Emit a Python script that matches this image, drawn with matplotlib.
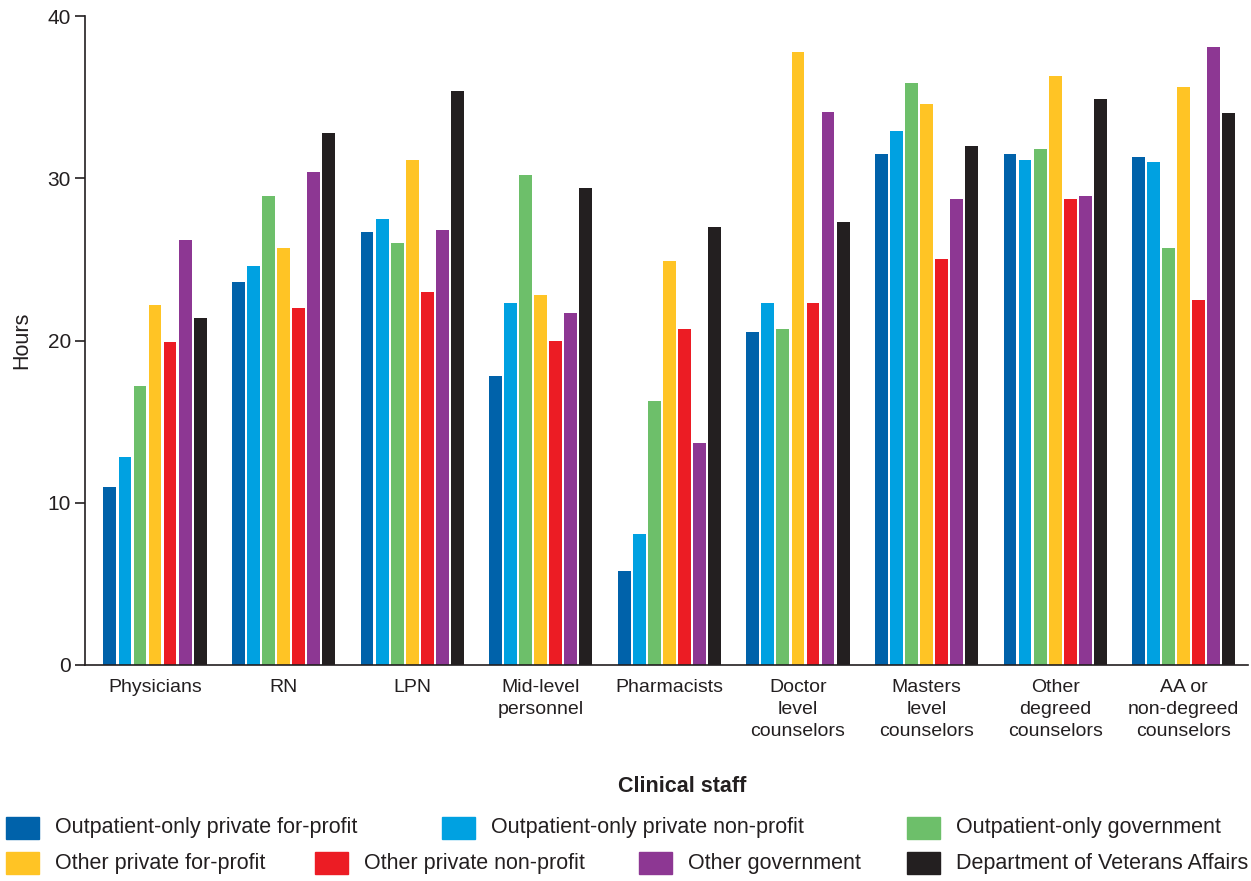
import matplotlib.pyplot as plt
from matplotlib.patches import Rectangle
import numpy as np

plt.rcParams['font.family'] = ['Liberation Sans Narrow', 'Liberation Sans', 'DejaVu Sans']

# categories on the x axis
staff = ['Physicians', 'RN', 'LPN', 'Mid-level\npersonnel', 'Pharmacists',
         'Doctor\nlevel\ncounselors', 'Masters\nlevel\ncounselors',
         'Other\ndegreed\ncounselors', 'AA or\nnon-degreed\ncounselors']

# hours per facility type
op_private_fp = [11.0, 23.6, 26.7, 17.8, 5.8, 20.5, 31.5, 31.5, 31.3]
op_private_np = [12.8, 24.6, 27.5, 22.3, 8.1, 22.3, 32.9, 31.1, 31.0]
op_government = [17.2, 28.9, 26.0, 30.2, 16.3, 20.7, 35.9, 31.8, 25.7]
other_private_fp = [22.2, 25.7, 31.1, 22.8, 24.9, 37.8, 34.6, 36.3, 35.6]
other_private_np = [19.9, 22.0, 23.0, 20.0, 20.7, 22.3, 25.0, 28.7, 22.5]
other_government = [26.2, 30.4, 26.8, 21.7, 13.7, 34.1, 28.7, 28.9, 38.1]
veterans = [21.4, 32.8, 35.4, 29.4, 27.0, 27.3, 32.0, 34.9, 34.0]

series = [op_private_fp, op_private_np, op_government,
          other_private_fp, other_private_np, other_government, veterans]
names = ['Outpatient-only private for-profit', 'Outpatient-only private non-profit',
         'Outpatient-only government', 'Other private for-profit',
         'Other private non-profit', 'Other government', 'Department of Veterans Affairs']
colors = ['#0062AA', '#00A1E1', '#6DBF6A', '#FFC425', '#EC1C24', '#8D3793', '#231F20']

fig = plt.figure(figsize=(12.51, 8.81), dpi=100)
ax = fig.add_axes([0.0679, 0.2452, 0.9297, 0.7366])

x = np.arange(len(staff))
step = 0.117
for i, (vals, c) in enumerate(zip(series, colors)):
    ax.bar(x + (i - 3) * step, vals, width=0.1, color=c, label=names[i])

ax.set_xlim(-0.545, 8.5)
ax.set_ylim(0, 40)
ax.set_yticks([0, 10, 20, 30, 40])
ax.set_xticks(x)
ax.set_xticklabels(staff, fontsize=14, color='#231F20', linespacing=1.38)
ax.tick_params(axis='x', length=0, pad=10)
ax.tick_params(axis='y', length=7, width=1.2, labelsize=15, colors='#231F20', pad=3)
for s in ['top', 'right']:
    ax.spines[s].set_visible(False)
for s in ['left', 'bottom']:
    ax.spines[s].set_linewidth(1.2)
    ax.spines[s].set_color('#231F20')

ax.set_ylabel('Hours', fontsize=15.5, color='#231F20', labelpad=11)
fig.text(0.545, 0.107, 'Clinical staff', fontsize=15.5, fontweight='bold',
         ha='center', va='center', color='#231F20')

# legend, laid out by hand as in the source
W, H = 1251.0, 881.0
entries = [(6, 828), (442, 828), (907, 828),
           (6, 863), (315, 863), (639, 863), (907, 863)]
for (px, py), name, c in zip(entries, names, colors):
    fig.patches.append(Rectangle((px / W, (H - py - 11) / H), 33 / W, 22 / H,
                                 transform=fig.transFigure, color=c))
    fig.text((px + 49) / W, (H - py) / H, name, fontsize=15.5,
             va='center', ha='left', color='#231F20')

fig.savefig('out.png', dpi=100)
